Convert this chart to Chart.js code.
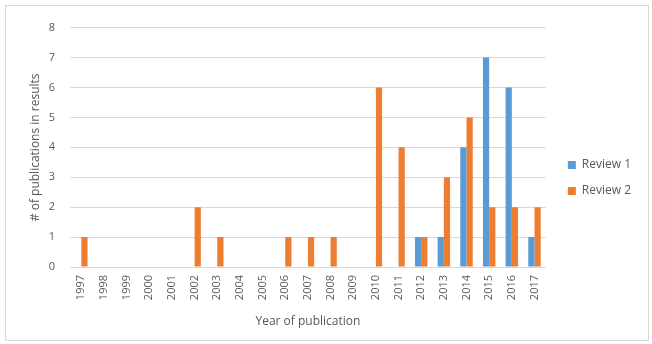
<!DOCTYPE html>
<html>
<head>
<meta charset="utf-8">
<script src="https://cdn.jsdelivr.net/npm/chart.js@4"></script>
<style>
  body { margin: 0; background: #fff; }
  #frame {
    position: absolute; left: 5px; top: 5px;
    width: 642px; height: 334px;
    border: 1px solid #d9d9d9;
  }
  #chart { display: block; }
</style>
</head>
<body>
<div id="frame"><canvas id="chart" width="642" height="334"></canvas></div>
<script>
// publication years and counts per review
const years = ['1997', '1998', '1999', '2000', '2001', '2002', '2003', '2004', '2005', '2006', '2007',
               '2008', '2009', '2010', '2011', '2012', '2013', '2014', '2015', '2016', '2017'];
const review1 = [0, 0, 0, 0, 0, 0, 0, 0, 0, 0, 0, 0, 0, 0, 0, 1, 1, 4, 7, 6, 1];
const review2 = [1, 0, 0, 0, 0, 2, 1, 0, 0, 1, 1, 1, 0, 6, 4, 1, 3, 5, 2, 2, 2];

const textColor = '#595959';
const fontFamily = "'Open Sans', 'Liberation Sans', sans-serif";

// nudge the legend away from the plot without shrinking the plot
const legendShift = {
    id: 'legendShift',
    afterLayout(chart) {
        const lg = chart.legend;
        lg.left += 8;
        lg.right += 8;
        lg.top += 4;
        lg.bottom += 4;
    }
};

const ctx = document.getElementById('chart').getContext('2d');
new Chart(ctx, {
    type: 'bar',
    data: {
        labels: years,
        datasets: [
            { label: 'Review 1', data: review1, backgroundColor: '#5b9bd5' },
            { label: 'Review 2', data: review2, backgroundColor: '#ed7d31' }
        ]
    },
    plugins: [legendShift],
    options: {
        responsive: false,
        animation: false,
        layout: { autoPadding: false, padding: { top: 9, right: 15, left: 18, bottom: 7 } },
        datasets: {
            bar: { categoryPercentage: 0.55, barPercentage: 1.0 }
        },
        plugins: {
            tooltip: { enabled: false },
            legend: {
                position: 'right',
                labels: {
                    boxWidth: 8,
                    boxHeight: 8,
                    padding: 14,
                    color: textColor,
                    font: { family: fontFamily, size: 12 }
                }
            }
        },
        scales: {
            x: {
                grid: { display: false, drawTicks: false },
                border: { color: '#d9d9d9' },
                afterFit(axis) { axis.height = 66; },
                ticks: {
                    minRotation: 90,
                    maxRotation: 90,
                    autoSkip: false,
                    padding: 8,
                    color: textColor,
                    font: { family: fontFamily, size: 11 }
                },
                title: {
                    display: true,
                    text: 'Year of publication',
                    color: textColor,
                    padding: { top: 6 },
                    font: { family: fontFamily, size: 12 }
                }
            },
            y: {
                min: 0,
                max: 8,
                grid: { color: '#d9d9d9', drawTicks: false },
                border: { display: false },
                afterFit(axis) { axis.width = 46; },
                ticks: {
                    stepSize: 1,
                    padding: 15,
                    color: textColor,
                    font: { family: fontFamily, size: 11 }
                },
                title: {
                    display: true,
                    text: '# of publications in results',
                    color: textColor,
                    padding: { bottom: 2 },
                    font: { family: fontFamily, size: 12 }
                }
            }
        }
    }
});
</script>
</body>
</html>
